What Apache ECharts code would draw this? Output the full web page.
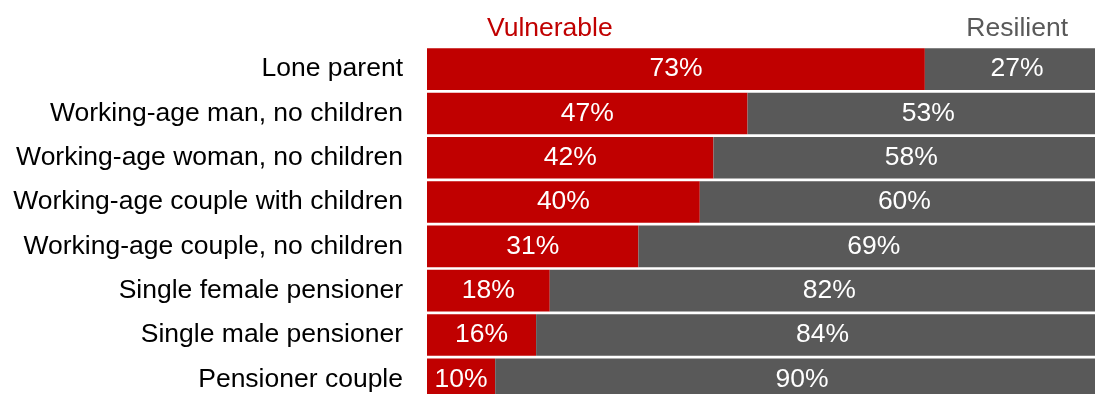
<!DOCTYPE html>
<html>
<head>
<meta charset="utf-8">
<style>
html,body{margin:0;padding:0;background:#fff;}
#chart{width:1095px;height:394px;}
</style>
<script src="https://cdn.jsdelivr.net/npm/echarts@6/dist/echarts.min.js"></script>
</head>
<body>
<div id="chart"></div>
<script>
const categories = [
  'Lone parent',
  'Working-age man, no children',
  'Working-age woman, no children',
  'Working-age couple with children',
  'Working-age couple, no children',
  'Single female pensioner',
  'Single male pensioner',
  'Pensioner couple'
];
const vulnerable = [73, 47, 42, 40, 31, 18, 16, 10];
const resilient = [27, 53, 58, 60, 69, 82, 84, 90];
const seriesNames = ['Vulnerable', 'Resilient'];

const chart = echarts.init(document.getElementById('chart'), null, {renderer: 'canvas'});
const font = 'Liberation Sans, Arial, sans-serif';
const labelCfg = {
  show: true,
  position: 'inside',
  color: '#ffffff',
  fontFamily: font,
  fontSize: 26.5,
  formatter: p => p.value + '%'
};
chart.setOption({
  animation: false,
  grid: {left: 427, top: 47, width: 682, height: 354.4, containLabel: false, outerBoundsMode: 'none'},
  xAxis: {type: 'value', min: 0, max: 100, show: false},
  yAxis: {
    type: 'category',
    data: categories,
    inverse: true,
    axisLine: {show: false},
    axisTick: {show: false},
    axisLabel: {color: '#000', fontFamily: font, fontSize: 26.5, margin: 24}
  },
  graphic: [
    {type: 'text', left: 487, top: 15, style: {text: seriesNames[0], fill: '#c00000', font: '26.5px Liberation Sans, Arial, sans-serif'}},
    {type: 'text', right: 27, top: 15, style: {text: seriesNames[1], fill: '#595959', font: '26.5px Liberation Sans, Arial, sans-serif'}}
  ],
  series: [
    {
      name: seriesNames[0], type: 'bar', stack: 'a', data: vulnerable,
      barCategoryGap: '6%',
      itemStyle: {color: '#c00000'},
      label: labelCfg
    },
    {
      name: seriesNames[1], type: 'bar', stack: 'a', data: resilient,
      barCategoryGap: '6%',
      itemStyle: {color: '#595959'},
      label: labelCfg
    }
  ]
});
</script>
</body>
</html>
